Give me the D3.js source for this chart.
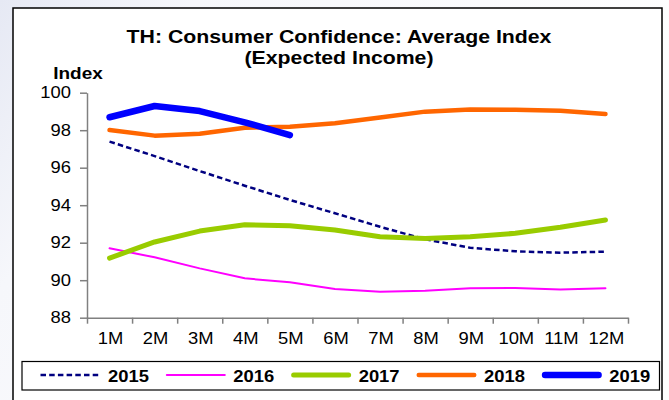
<!DOCTYPE html>
<html><head><meta charset="utf-8">
<script src="https://cdn.jsdelivr.net/npm/d3@7"></script>
<style>
html,body{margin:0;padding:0;background:#fff;}
svg{display:block;font-family:Arial,"Liberation Sans",sans-serif;}
</style></head>
<body><svg id="c" width="669" height="400"></svg>
<script>
const months = ["1M","2M","3M","4M","5M","6M","7M","8M","9M","10M","11M","12M"];
const yTicks = [88,90,92,94,96,98,100];
const years = ["2015","2016","2017","2018","2019"];
const v2015 = [97.39,96.62,95.82,95.04,94.28,93.57,92.85,92.18,91.73,91.54,91.47,91.52];
const v2016 = [91.70,91.22,90.63,90.10,89.89,89.53,89.39,89.44,89.57,89.58,89.51,89.57];
const v2017 = [91.18,92.04,92.62,92.96,92.91,92.68,92.32,92.23,92.32,92.50,92.82,93.21];
const v2018 = [98.01,97.71,97.81,98.13,98.19,98.37,98.68,98.99,99.10,99.09,99.04,98.86];
const v2019 = [98.69,99.29,99.02,98.42,97.74];
const titleLines = ["TH: Consumer Confidence: Average Index","(Expected Income)"];
const yLabel = "Index";

const series = [
  {name:years[0], values:v2015, color:"#000080", width:2.5, dash:"5.5,3.2"},
  {name:years[1], values:v2016, color:"#ff00ff", width:2, dash:null},
  {name:years[2], values:v2017, color:"#99cc00", width:5, dash:null},
  {name:years[3], values:v2018, color:"#ff6600", width:4.5, dash:null},
  {name:years[4], values:v2019, color:"#0000ff", width:6.5, dash:null}
];

const SX = 1.15; // horizontal text stretch
const svg = d3.select("#c");

// background
const defs = svg.append("defs");
const g0 = defs.append("linearGradient").attr("id","bg").attr("x1","0").attr("y1","0").attr("x2","1").attr("y2","0.4");
g0.append("stop").attr("offset","0").attr("stop-color","#e6e9f4");
g0.append("stop").attr("offset","0.25").attr("stop-color","#f6f7fb");
g0.append("stop").attr("offset","1").attr("stop-color","#ffffff");
svg.append("rect").attr("width",669).attr("height",400).attr("fill","url(#bg)");
svg.append("rect").attr("x",13).attr("y",8).attr("width",649).attr("height",400)
  .attr("fill","#fff").attr("stroke","#000").attr("stroke-width",1.5);

function stext(sel, x, y, str, size, weight, anchor){
  return sel.append("text")
    .attr("transform",`translate(${x},${y}) scale(${SX},1)`)
    .attr("text-anchor",anchor||"middle")
    .attr("font-size",size).attr("font-weight",weight||"normal")
    .attr("fill","#000").text(str);
}

// title
stext(svg, 339, 43, titleLines[0], 18.5, "bold");
stext(svg, 339, 64, titleLines[1], 18.5, "bold");
stext(svg, 78, 78.5, yLabel, 16.5, "bold");

// scales
const x = d3.scaleBand().domain(months).range([87,628]);
const xi = d3.scaleLinear().domain([0,12]).range([87,628]);
const y = d3.scaleLinear().domain([88,100]).range([317.7,92.7]);

// y axis
const ya = svg.append("g").attr("transform","translate(87,0)")
  .call(d3.axisLeft(y).tickValues(yTicks).tickSize(7).tickSizeOuter(0).tickPadding(9));
ya.select(".domain").attr("stroke","#808080").attr("stroke-width",1.5);
ya.selectAll(".tick line").attr("stroke","#808080").attr("stroke-width",1.5);
ya.selectAll(".tick text").attr("font-size",16).attr("fill","#000")
  .attr("font-family","Arial,'Liberation Sans',sans-serif")
  .attr("x",-16/SX).attr("transform",`scale(${SX},1)`);

// x axis (ticks at band boundaries)
const xa = svg.append("g").attr("transform",`translate(0,${y(88)})`)
  .call(d3.axisBottom(xi).tickValues(d3.range(13)).tickSize(6).tickSizeOuter(0).tickFormat(""));
xa.select(".domain").attr("stroke","#808080").attr("stroke-width",1.5);
xa.selectAll(".tick line").attr("stroke","#808080").attr("stroke-width",1.5);
const xl = svg.append("g");
months.forEach(m => stext(xl, x(m)+x.bandwidth()/2+1, 344, m, 16, "normal"));

// lines
const line = d3.line()
  .x((d,i)=>x(months[i])+x.bandwidth()/2)
  .y(d=>y(d))
  .curve(d3.curveLinear);
const lg = svg.append("g");
series.forEach(s=>{
  lg.append("path").datum(s.values).attr("d",line)
    .attr("fill","none").attr("stroke",s.color).attr("stroke-width",s.width)
    .attr("stroke-linecap", s.dash ? "butt" : "round")
    .attr("stroke-linejoin","round")
    .attr("stroke-dasharray",s.dash);
});

// legend
svg.append("rect").attr("x",22).attr("y",361.5).attr("width",637.5).attr("height",28.5)
  .attr("fill","#fff").attr("stroke","#000").attr("stroke-width",1.2);
const legX = d3.scalePoint().domain(years).range([40.5,541.8]);
series.forEach(s=>{
  const lx = legX(s.name);
  svg.append("line").attr("x1",lx+(s.dash?0:s.width/2)).attr("x2",lx+60-(s.dash?0:s.width/2))
    .attr("y1",375).attr("y2",375)
    .attr("stroke",s.color).attr("stroke-width",s.width)
    .attr("stroke-linecap", s.dash ? "butt" : "round")
    .attr("stroke-dasharray",s.dash);
  stext(svg, lx+67.5, 382, s.name, 16, "bold", "start");
});
</script></body></html>
